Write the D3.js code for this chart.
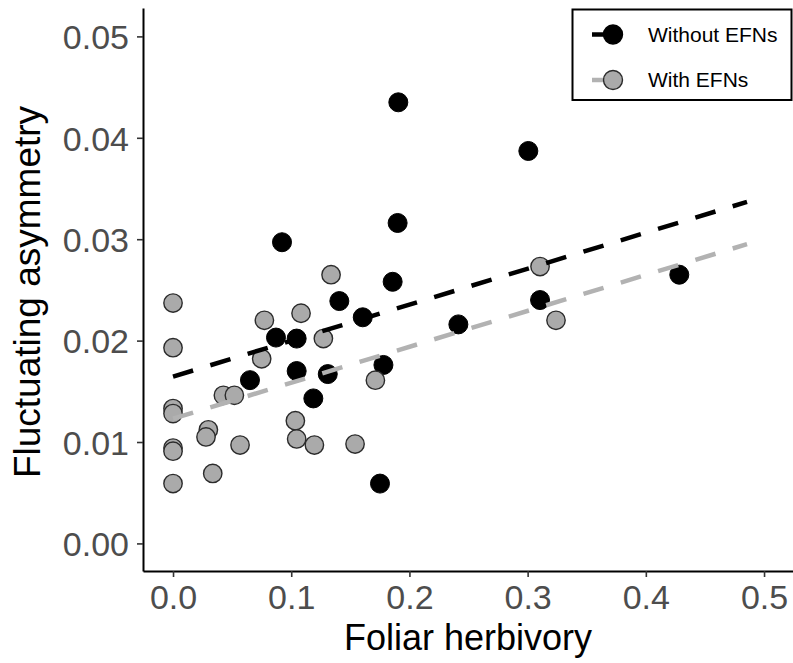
<!DOCTYPE html>
<html>
<head>
<meta charset="utf-8">
<script src="https://cdn.jsdelivr.net/npm/d3@7"></script>
<style>
  html, body { margin: 0; padding: 0; background: #fff; }
  svg { display: block; font-family: "Liberation Sans", Arial, sans-serif; }
</style>
</head>
<body>
<svg id="chart" width="793" height="663"></svg>
<script>
// Plants without extrafloral nectaries: [foliar herbivory, fluctuating asymmetry]
const withoutEFNs = [
  [0.1906, 0.0435], [0.1900, 0.0316], [0.0922, 0.0297], [0.3006, 0.0387],
  [0.4283, 0.0265], [0.3105, 0.0240], [0.2414, 0.0216], [0.1858, 0.0258],
  [0.1407, 0.0239], [0.1605, 0.0223], [0.0871, 0.0203], [0.1046, 0.0202],
  [0.1046, 0.0170], [0.1309, 0.0167], [0.0651, 0.0161], [0.1780, 0.0176],
  [0.1187, 0.0143], [0.1751, 0.0059]
];
// Plants with extrafloral nectaries
const withEFNs = [
  [0.1337, 0.0265], [0.3105, 0.0273], [0.3240, 0.0220], [0.0000, 0.0237],
  [0.1083, 0.0227], [0.0773, 0.0220], [0.1272, 0.0202], [0.0000, 0.0193],
  [0.0750, 0.0182], [0.1712, 0.0161], [0.0426, 0.0146], [0.0519, 0.0146],
  [0.0000, 0.0133], [0.0000, 0.0128], [0.1035, 0.0121], [0.0299, 0.0112],
  [0.0279, 0.0105], [0.1046, 0.0103], [0.0567, 0.0097], [0.1196, 0.0097],
  [0.1540, 0.0098], [0.0000, 0.0094], [0.0000, 0.0091], [0.0336, 0.0069],
  [0.0000, 0.0059]
];
// Linear fits (start and end of each fitted line)
const fitWithout = [[0, 0.01645], [0.4856, 0.03368]];
const fitWith = [[0, 0.0123], [0.4856, 0.02951]];

const xTicks = [0, 0.1, 0.2, 0.3, 0.4, 0.5];
const yTicks = [0, 0.01, 0.02, 0.03, 0.04, 0.05];
const seriesNames = ["Without EFNs", "With EFNs"];

const svg = d3.select("#chart");
const panel = { left: 143, right: 793, top: 8, bottom: 571 };

const x = d3.scaleLinear().domain([-0.0254, 0.5245]).range([panel.left, panel.right]);
const y = d3.scaleLinear().domain([-0.00272, 0.0528]).range([panel.bottom, panel.top]);

const black = "#000000";
const greyFill = "#aaaaaa";
const greyLine = "#b2b2b2";

// Points
const pts = svg.append("g");
pts.selectAll("circle.wo").data(withoutEFNs).join("circle")
  .attr("class", "wo")
  .attr("cx", d => x(d[0])).attr("cy", d => y(d[1])).attr("r", 9.5)
  .attr("fill", black).attr("stroke", black).attr("stroke-width", 1);
pts.selectAll("circle.wi").data(withEFNs).join("circle")
  .attr("class", "wi")
  .attr("cx", d => x(d[0])).attr("cy", d => y(d[1])).attr("r", 9.2)
  .attr("fill", greyFill).attr("stroke", "#2b2b2b").attr("stroke-width", 1.4);

// Fitted lines
const line = d3.line().x(d => x(d[0])).y(d => y(d[1]));
svg.append("path").datum(fitWithout).attr("d", line)
  .attr("fill", "none").attr("stroke", black).attr("stroke-width", 4.5)
  .attr("stroke-dasharray", "21,18");
svg.append("path").datum(fitWith).attr("d", line)
  .attr("fill", "none").attr("stroke", greyLine).attr("stroke-width", 4.5)
  .attr("stroke-dasharray", "21,18");

// Axes
const fmtX = d3.format(".1f"), fmtY = d3.format(".2f");
const xAxis = svg.append("g").attr("transform", `translate(0,${panel.bottom})`)
  .call(d3.axisBottom(x).tickValues(xTicks).tickFormat(fmtX).tickSize(6).tickSizeOuter(0).tickPadding(8));
const yAxis = svg.append("g").attr("transform", `translate(${panel.left},0)`)
  .call(d3.axisLeft(y).tickValues(yTicks).tickFormat(fmtY).tickSize(6).tickSizeOuter(0).tickPadding(8));

[xAxis, yAxis].forEach(g => {
  g.select(".domain").attr("stroke", "#000").attr("stroke-width", 2);
  g.selectAll(".tick line").attr("stroke", "#333").attr("stroke-width", 1.6);
  g.selectAll(".tick text").attr("fill", "#4d4d4d").style("font-size", "34px")
    .style("font-family", "'Liberation Sans', Arial, sans-serif");
});
xAxis.selectAll(".tick text").attr("dy", "0.71em");
yAxis.selectAll(".tick text").attr("dy", "0.36em");

// Axis titles
svg.append("text").attr("x", 468).attr("y", 650).attr("text-anchor", "middle")
  .style("font-size", "36px").attr("fill", "#000").text("Foliar herbivory");
svg.append("text").attr("transform", "translate(40,292) rotate(-90)").attr("text-anchor", "middle")
  .style("font-size", "37px").attr("fill", "#000").text("Fluctuating asymmetry");

// Legend
const lg = svg.append("g");
lg.append("rect").attr("x", 572.5).attr("y", 9.5).attr("width", 219).attr("height", 90.5)
  .attr("fill", "#fff").attr("stroke", "#000").attr("stroke-width", 2);
const keys = [
  { name: seriesNames[0], fill: black, stroke: black, line: black, cy: 34.5 },
  { name: seriesNames[1], fill: greyFill, stroke: "#2b2b2b", line: greyLine, cy: 80 }
];
keys.forEach(k => {
  lg.append("line").attr("x1", 592).attr("x2", 612).attr("y1", k.cy).attr("y2", k.cy)
    .attr("stroke", k.line).attr("stroke-width", 4.5);
  lg.append("circle").attr("cx", 613).attr("cy", k.cy).attr("r", 9.5)
    .attr("fill", k.fill).attr("stroke", k.stroke).attr("stroke-width", 1.4);
  lg.append("text").attr("x", 648).attr("y", k.cy + 7.3).style("font-size", "21px")
    .attr("fill", "#000").text(k.name);
});
</script>
</body>
</html>
